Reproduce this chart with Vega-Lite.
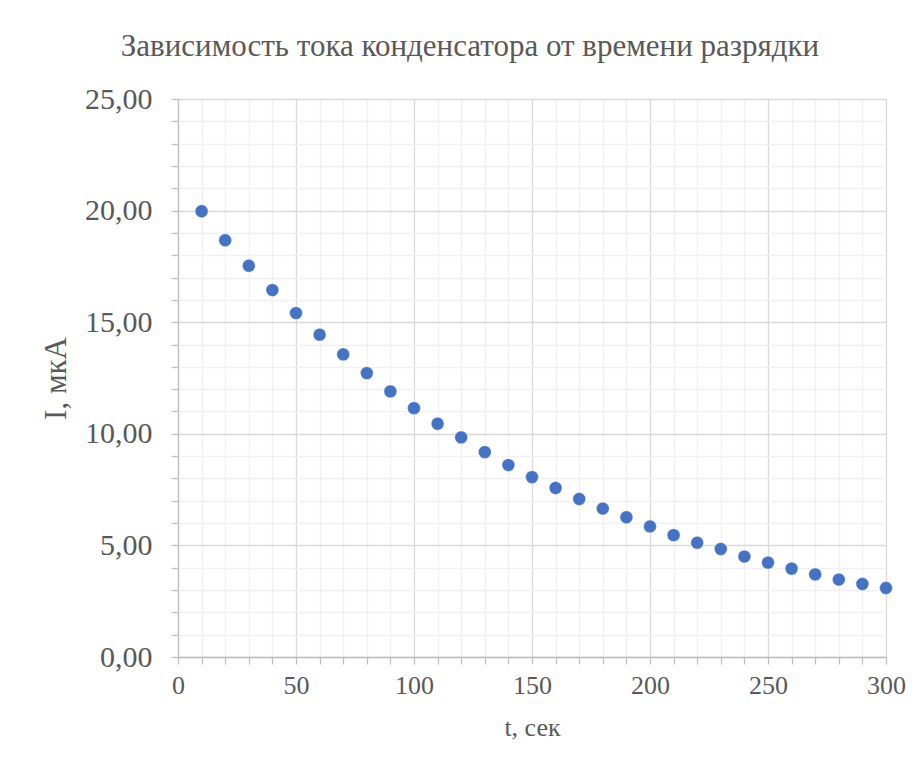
{
  "$schema": "https://vega.github.io/schema/vega-lite/v6.json",
  "width": 708,
  "height": 558,
  "autosize": "none",
  "padding": {"left": 178, "top": 99, "right": 29, "bottom": 106},
  "background": "white",
  "config": {
    "view": {"stroke": null},
    "font": "Liberation Serif"
  },
  "title": {
    "text": "Зависимость тока конденсатора от времени разрядки",
    "anchor": "middle",
    "font": "Liberation Serif",
    "fontSize": 31,
    "fontWeight": "normal",
    "color": "#595959",
    "offset": 21,
    "dx": -62
  },
  "data": {
    "values": [
      {"t": 10, "I": 19.97}, {"t": 20, "I": 18.67}, {"t": 30, "I": 17.53},
      {"t": 40, "I": 16.44}, {"t": 50, "I": 15.41}, {"t": 60, "I": 14.44},
      {"t": 70, "I": 13.56}, {"t": 80, "I": 12.72}, {"t": 90, "I": 11.90},
      {"t": 100, "I": 11.15}, {"t": 110, "I": 10.45}, {"t": 120, "I": 9.84},
      {"t": 130, "I": 9.18}, {"t": 140, "I": 8.60}, {"t": 150, "I": 8.06},
      {"t": 160, "I": 7.57}, {"t": 170, "I": 7.08}, {"t": 180, "I": 6.65},
      {"t": 190, "I": 6.26}, {"t": 200, "I": 5.85}, {"t": 210, "I": 5.46},
      {"t": 220, "I": 5.12}, {"t": 230, "I": 4.84}, {"t": 240, "I": 4.50},
      {"t": 250, "I": 4.23}, {"t": 260, "I": 3.96}, {"t": 270, "I": 3.70},
      {"t": 280, "I": 3.47}, {"t": 290, "I": 3.27}, {"t": 300, "I": 3.09}
    ]
  },
  "mark": {"type": "point", "filled": true, "size": 165, "opacity": 1, "color": "#4472C4", "stroke": "#ffffff", "strokeWidth": 0.6, "strokeOpacity": 0.6},
  "encoding": {
    "x": {
      "field": "t",
      "type": "quantitative",
      "scale": {"domain": [0, 300], "nice": false, "zero": true},
      "axis": {
        "title": "t, сек",
        "values": [0,10,20,30,40,50,60,70,80,90,100,110,120,130,140,150,160,170,180,190,200,210,220,230,240,250,260,270,280,290,300],
        "labelExpr": "datum.value % 50 == 0 ? datum.value : ''",
        "labelOverlap": false,
        "labelBound": false,
        "labelFlush": false,
        "labelFont": "Liberation Serif",
        "labelFontSize": 26,
        "labelColor": "#595959",
        "labelPadding": 8,
        "titleFont": "Liberation Serif",
        "titleFontSize": 26,
        "titleFontWeight": "normal",
        "titleColor": "#595959",
        "titlePadding": 16,
        "domainColor": "#bfbfbf",
        "domainWidth": 1.3,
        "tickColor": "#bfbfbf",
        "tickWidth": 1.3,
        "tickSize": 7,
        "grid": true,
        "gridColor": {"condition": {"test": "datum.value % 50 == 0", "value": "#d9d9d9"}, "value": "#f0f0f0"},
        "gridWidth": 1.3
      }
    },
    "y": {
      "field": "I",
      "type": "quantitative",
      "scale": {"domain": [0, 25], "nice": false},
      "axis": {
        "title": "I, мкА",
        "values": [0,1,2,3,4,5,6,7,8,9,10,11,12,13,14,15,16,17,18,19,20,21,22,23,24,25],
        "labelExpr": "datum.value % 5 == 0 ? replace(format(datum.value, '.2f'), '.', ',') : ''",
        "labelOverlap": false,
        "labelBound": false,
        "labelFlush": false,
        "labelFont": "Liberation Serif",
        "labelFontSize": 30,
        "labelColor": "#595959",
        "labelPadding": 19,
        "titleFont": "Liberation Serif",
        "titleFontSize": 31,
        "titleFontWeight": "normal",
        "titleColor": "#595959",
        "titlePadding": 12,
        "domainColor": "#bfbfbf",
        "domainWidth": 1.3,
        "tickColor": "#bfbfbf",
        "tickWidth": 1.3,
        "tickSize": 7,
        "grid": true,
        "gridColor": {"condition": {"test": "datum.value % 5 == 0", "value": "#d9d9d9"}, "value": "#f0f0f0"},
        "gridWidth": 1.3
      }
    }
  }
}
